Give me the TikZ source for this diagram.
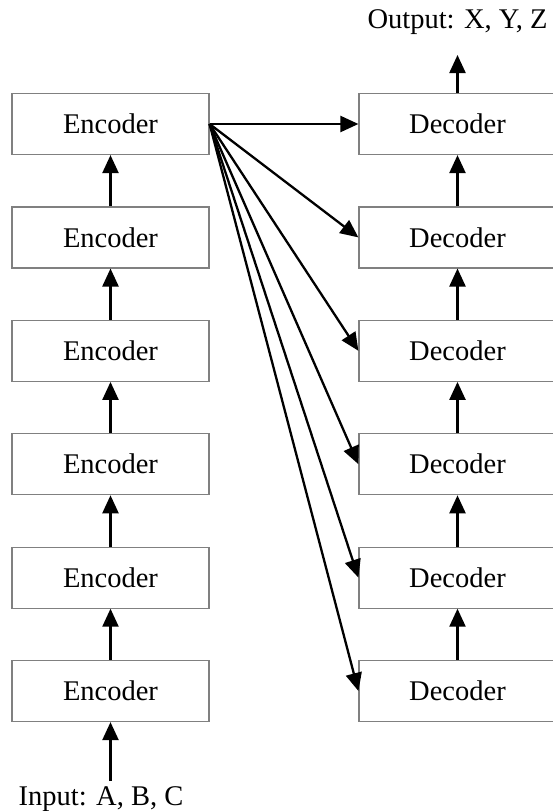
\documentclass[tikz,border=0pt]{standalone}
\usepackage{fontspec}
\setmainfont{Liberation Serif}
\usetikzlibrary{arrows.meta}
\definecolor{boxgray}{RGB}{128,128,128}
\begin{document}
\begin{tikzpicture}[x=1pt,y=-1pt,
  block/.style={draw=boxgray, line width=1.2pt, minimum width=197pt,
    minimum height=61pt, inner sep=0pt, font=\fontsize{28.5}{34}\selectfont},
  link/.style={line width=2.3pt, -{Triangle[length=18pt,width=16pt]}},
  lbl/.style={font=\fontsize{28.5}{34}\selectfont, inner sep=0pt}]
\useasboundingbox (0,0) rectangle (553,811);
% two stacks of six layers, row 1 at the top
\foreach \i in {1,...,6} {
  \pgfmathsetmacro\yy{124+113.4*(\i-1)}
  \node[block] (e\i) at (110.5,\yy) {Encoder};
  \node[block] (d\i) at (457.5,\yy) {Decoder};
}
% upward flow inside each stack
\foreach \i [evaluate=\i as \j using int(\i+1)] in {1,...,5} {
  \draw[link] (e\j.north) -- (e\i.south);
  \draw[link] (d\j.north) -- (d\i.south);
}
% top encoder feeds every decoder
\foreach \i in {1,...,6} {
  \draw[link] (e1.east) -- (d\i.west);
}
% input and output
\node[lbl, anchor=base] (inp) at (101,805) {Input: A, B, C};
\coordinate (inpTop) at (110.5,781);
\draw[link] (inpTop) -- (e6.south);
\node[lbl, anchor=base] (out) at (457.5,28) {Output: X, Y, Z};
\coordinate (outBot) at (457.5,55);
\draw[link] (d1.north) -- (outBot);
\end{tikzpicture}
\end{document}
